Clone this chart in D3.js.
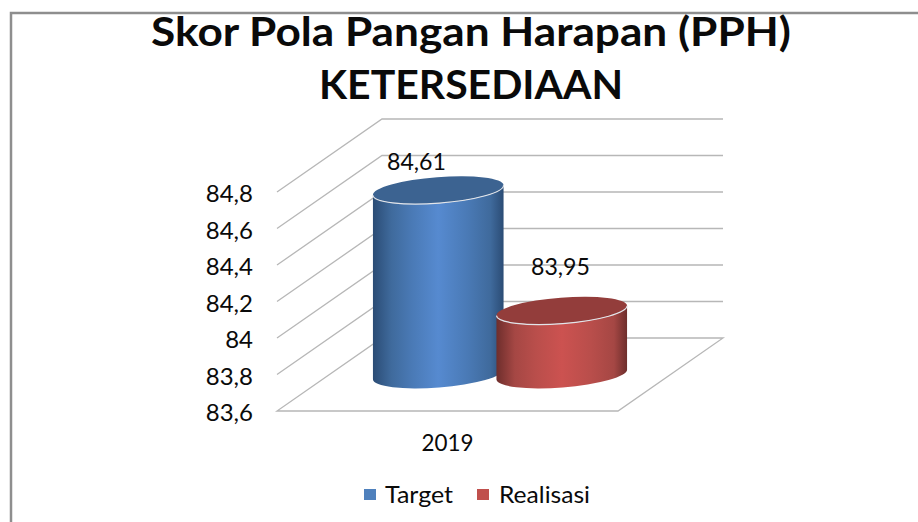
<!DOCTYPE html>
<html lang="en">
<head>
  <meta charset="UTF-8">
  <script src="https://d3js.org/d3.v7.min.js"></script>
  <title>Skor Pola Pangan Harapan (PPH)</title>
  <style>
    html, body { margin: 0; padding: 0; background: #fff; }
    svg { display: block; }
    text { font-family: Lato, sans-serif; fill: #0a0a0a; }
  </style>
</head>
<body>
<div id="chart"></div>
<script>
  // values
  const titleLines = ["Skor Pola Pangan Harapan (PPH)", "KETERSEDIAAN"];
  const categories = ["2019"];
  const seriesNames = ["Target", "Realisasi"];
  const seriesValues = [84.61, 83.95];
  const seriesLabels = ["84,61", "83,95"];
  const yTicks = [83.6, 83.8, 84, 84.2, 84.4, 84.6, 84.8];

  const width = 918, height = 522;
  const fontSize = 24;

  // floor of the 3d box: front edge 277-618, pushed back by (depthX, depthY)
  const depthX = 105, depthY = 73;
  const y = d3.scaleLinear().domain([83.6, 84.8]).range([411, 192]);
  const x = d3.scaleBand().domain(categories).range([277, 618]);
  // the two cylinders sit half way into the box
  const seriesX = d3.scaleBand().domain(seriesNames).range([376.5, 623.5]);
  const color = d3.scaleOrdinal().domain(seriesNames).range(["#4f81bd", "#c0504d"]);

  const svg = d3.select("#chart").append("svg")
    .attr("width", width)
    .attr("height", height);

  // outer frame, only top and left show in the crop
  svg.append("path")
    .attr("d", d3.line()([[11, height], [11, 13], [width, 13]]))
    .attr("fill", "none")
    .attr("stroke", "#8e8e8e")
    .attr("stroke-width", 2.5);

  // gradients for the cylinder sides
  const defs = svg.append("defs");
  const stops = {
    "Target": ["#2b4c75", "#3f6a9c", "#4a7ab6", "#568ad0", "#4a7ab6", "#3f6a9c", "#2b4c75"],
    "Realisasi": ["#6e2e2c", "#a54744", "#b94e4b", "#cc5250", "#b94e4b", "#a54744", "#6e2e2c"]
  };
  const stopAt = [0, 0.14, 0.3, 0.5, 0.72, 0.9, 1];
  seriesNames.forEach((s, i) => {
    defs.append("linearGradient")
      .attr("id", "side" + i)
      .selectAll("stop")
      .data(stops[s])
      .join("stop")
      .attr("offset", (d, j) => stopAt[j])
      .attr("stop-color", d => d);
  });

  // walls and floor
  const wallColor = "#b7b7b7";
  svg.append("g").selectAll("path")
    .data(yTicks.slice(1))
    .join("path")
    .attr("d", d => d3.line()([
      [x.range()[0], y(d)],
      [x.range()[0] + depthX, y(d) - depthY],
      [x.range()[1] + depthX, y(d) - depthY]
    ]))
    .attr("fill", "none")
    .attr("stroke", wallColor)
    .attr("stroke-width", 1.3);

  svg.append("path")
    .attr("d", d3.line()([
      [x.range()[0], y(83.6)],
      [x.range()[1], y(83.6)],
      [x.range()[1] + depthX, y(83.6) - depthY],
      [x.range()[0] + depthX, y(83.6) - depthY]
    ]) + "Z")
    .attr("fill", "#fff")
    .attr("stroke", wallColor)
    .attr("stroke-width", 1.3);

  // y axis
  const yAxis = svg.append("g")
    .attr("transform", "translate(253,2)")
    .call(d3.axisLeft(y)
      .tickValues(yTicks)
      .tickSize(0)
      .tickPadding(0)
      .tickFormat(d => String(d).replace(".", ",")));
  yAxis.select(".domain").remove();
  yAxis.selectAll("text")
    .style("font-family", "Lato, sans-serif")
    .style("font-size", fontSize + "px")
    .attr("fill", "#0a0a0a");

  // cylinders
  const rx = 65.5, ry = 13, tilt = -4.4;
  const rad = tilt * Math.PI / 180;
  const ex = rx * Math.cos(rad), ey = rx * Math.sin(rad);
  const centerX = d => seriesX(d) + seriesX.bandwidth() / 2;
  const topY = d => y(seriesValues[seriesNames.indexOf(d)]) - depthY / 2;
  const bars = svg.append("g").selectAll("g")
    .data(seriesNames)
    .join("g");

  bars.append("path")
    .attr("d", d => {
      const cx = centerX(d), top = topY(d);
      const bot = y(83.6) - depthY / 2;
      return `M${cx - ex},${top - ey}L${cx - ex},${bot - ey}`
        + `A${rx},${ry} ${tilt} 0 0 ${cx + ex},${bot + ey}`
        + `L${cx + ex},${top + ey}`
        + `A${rx},${ry} ${tilt} 0 1 ${cx - ex},${top - ey}Z`;
    })
    .attr("fill", (d, i) => `url(#side${i})`);

  bars.append("ellipse")
    .attr("rx", rx)
    .attr("ry", ry)
    .attr("transform", d => `translate(${centerX(d)},${topY(d)}) rotate(${tilt})`)
    .attr("fill", d => d3.color(color(d)).darker(0.75));

  // light rim on the near edge of the top
  bars.append("path")
    .attr("d", d => {
      const cx = centerX(d), top = topY(d);
      return `M${cx - ex},${top - ey}A${rx},${ry} ${tilt} 0 0 ${cx + ex},${top + ey}`;
    })
    .attr("fill", "none")
    .attr("stroke", "#e2e5ea")
    .attr("stroke-width", 1.2);

  // data labels
  const labelPos = [[416.5, 170], [560.5, 275]];
  svg.append("g").selectAll("text")
    .data(seriesLabels)
    .join("text")
    .attr("x", (d, i) => labelPos[i][0])
    .attr("y", (d, i) => labelPos[i][1])
    .attr("text-anchor", "middle")
    .attr("font-size", fontSize)
    .attr("textLength", 59)
    .attr("lengthAdjust", "spacingAndGlyphs")
    .text(d => d);

  // category label
  svg.append("g").selectAll("text")
    .data(categories)
    .join("text")
    .attr("x", d => x(d) + x.bandwidth() / 2)
    .attr("y", 451)
    .attr("text-anchor", "middle")
    .attr("font-size", fontSize)
    .attr("textLength", 52)
    .attr("lengthAdjust", "spacingAndGlyphs")
    .text(d => d);

  // title
  const titleLen = [640, 304];
  svg.append("g").selectAll("text")
    .data(titleLines)
    .join("text")
    .attr("x", 471)
    .attr("y", (d, i) => 46 + i * 53)
    .attr("text-anchor", "middle")
    .attr("font-size", 40)
    .attr("font-weight", 700)
    .attr("textLength", (d, i) => titleLen[i])
    .attr("lengthAdjust", "spacingAndGlyphs")
    .text(d => d);

  // legend
  const legendX = [364, 477];
  const legendLen = [68, 91];
  const legend = svg.append("g").selectAll("g")
    .data(seriesNames)
    .join("g")
    .attr("transform", (d, i) => `translate(${legendX[i]},489)`);
  legend.append("rect")
    .attr("width", 12)
    .attr("height", 11)
    .attr("fill", d => color(d));
  legend.append("text")
    .attr("x", (d, i) => i ? 22 : 21)
    .attr("y", 14)
    .attr("font-size", fontSize)
    .attr("textLength", (d, i) => legendLen[i])
    .attr("lengthAdjust", "spacingAndGlyphs")
    .text(d => d);
</script>
</body>
</html>
